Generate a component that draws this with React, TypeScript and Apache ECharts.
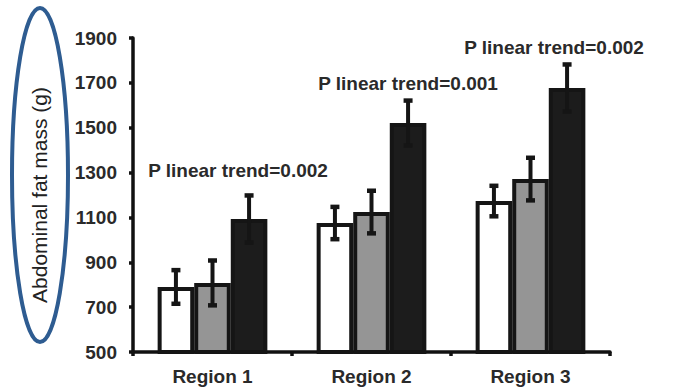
import React, { useEffect, useRef } from 'react';
import * as echarts from 'echarts';

const categories = ['Region 1', 'Region 2', 'Region 3'];
const lowGroup = [790, 1075, 1173];
const midGroup = [808, 1124, 1271];
const highGroup = [1093, 1521, 1677];
const lowErr = [75, 72, 68];
const midErr = [100, 95, 95];
const highErr = [105, 100, 105];
const yTicks = { min: 500, max: 1900, interval: 200 };
const trendLabels = ['P linear trend=0.002', 'P linear trend=0.001', 'P linear trend=0.002'];
const yTitle = 'Abdominal fat mass (g)';

const CAT_GAP = 0.31;
const FONT = '"Liberation Sans", Arial, sans-serif';

export default function App() {
  const ref = useRef<HTMLDivElement>(null);
  useEffect(() => {
    const chart = echarts.init(ref.current!, null, { renderer: 'svg' });
    const groups = [lowGroup, midGroup, highGroup];
    const errs = [lowErr, midErr, highErr];
    const errData: number[][] = [];
    groups.forEach((g, s) => {
      g.forEach((v, i) => {
        errData.push([i, v - errs[s][i], v + errs[s][i], s]);
      });
    });
    const barBase = {
      type: 'bar',
      barGap: '0%',
      barCategoryGap: (CAT_GAP * 100) + '%',
    };
    const trendPos = [
      [238, 170],
      [408, 83],
      [554, 47],
    ];
    chart.setOption({
      animation: false,
      grid: { left: 133, right: 80, top: 38, bottom: 36 },
      xAxis: {
        type: 'category',
        data: categories,
        axisLine: { lineStyle: { color: '#111', width: 3.5 } },
        axisTick: { show: true, length: 4, lineStyle: { color: '#111', width: 3.5 } },
        axisLabel: {
          color: '#2a2a2a', fontSize: 19, fontWeight: 'bold', fontFamily: FONT, margin: 15,
        },
      },
      yAxis: {
        type: 'value',
        min: yTicks.min,
        max: yTicks.max,
        interval: yTicks.interval,
        name: yTitle,
        nameLocation: 'middle',
        nameRotate: 90,
        nameGap: 83,
        nameTextStyle: { color: '#222', fontSize: 21, fontFamily: FONT },
        splitLine: { show: false },
        axisLine: { show: true, lineStyle: { color: '#111', width: 3.5 } },
        axisTick: { show: true, length: 4, lineStyle: { color: '#111', width: 3.5 } },
        axisLabel: {
          color: '#2a2a2a', fontSize: 19, fontWeight: 'bold', fontFamily: FONT, margin: 16,
          formatter: (v: number) => String(v),
        },
      },
      series: [
        { ...barBase, data: lowGroup, itemStyle: { color: '#ffffff', borderColor: '#151515', borderWidth: 4 } },
        { ...barBase, data: midGroup, itemStyle: { color: '#959595', borderColor: '#151515', borderWidth: 4 } },
        { ...barBase, data: highGroup, itemStyle: { color: '#1c1c1c', borderColor: '#151515', borderWidth: 4 } },
        {
          type: 'custom',
          coordinateSystem: 'cartesian2d',
          data: errData,
          encode: { x: 0, y: [1, 2] },
          z: 10,
          renderItem: (params: any, api: any) => {
            const i = api.value(0);
            const lo = api.value(1);
            const hi = api.value(2);
            const s = api.value(3);
            const band = api.size([1, 0])[0];
            const bw = (band * (1 - CAT_GAP)) / 3;
            const b = api.coord([i, lo]);
            const t = api.coord([i, hi]);
            const x = b[0] + (s - 1) * bw;
            const cw = 4.5;
            const st = { stroke: '#151515', lineWidth: 4 };
            const cap = { stroke: '#151515', lineWidth: 4.5 };
            return {
              type: 'group',
              children: [
                { type: 'line', shape: { x1: x, y1: b[1], x2: x, y2: t[1] }, style: st },
                { type: 'line', shape: { x1: x - cw, y1: t[1], x2: x + cw, y2: t[1] }, style: cap },
                { type: 'line', shape: { x1: x - cw, y1: b[1], x2: x + cw, y2: b[1] }, style: cap },
              ],
            };
          },
        },
      ],
      graphic: [
        ...trendLabels.map((txt, k) => ({
          type: 'text',
          x: trendPos[k][0],
          y: trendPos[k][1],
          style: {
            text: txt,
            fill: '#2a2a2a',
            fontSize: 19,
            fontWeight: 'bold',
            fontFamily: FONT,
            align: 'center',
            verticalAlign: 'middle',
          },
        })),
        {
          type: 'ellipse',
          shape: { cx: 40, cy: 175, rx: 28, ry: 167 },
          style: { fill: 'none', stroke: '#2E5C91', lineWidth: 4 },
          z: 20,
        },
      ],
    });
    return () => chart.dispose();
  }, []);
  return (
    <div
      ref={ref}
      style={{ position: 'fixed', left: 0, top: 0, width: 690, height: 388, background: '#fff' }}
    />
  );
}
